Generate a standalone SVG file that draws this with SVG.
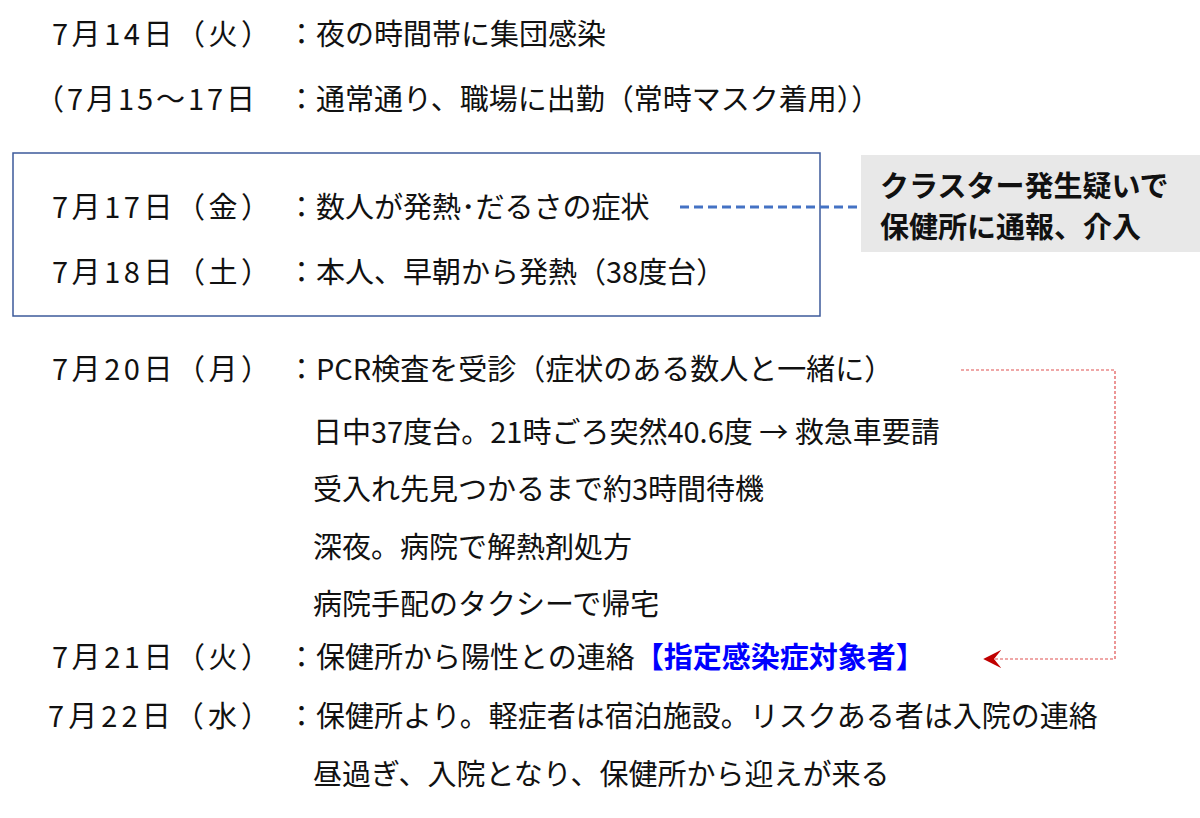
<svg xmlns="http://www.w3.org/2000/svg" width="1200" height="818" viewBox="0 0 1200 818">
<defs>
<style>
text{font-family:"Noto Sans CJK JP","Noto Sans",sans-serif;font-size:29px;fill:#111}
.b{font-weight:bold}
</style>
<marker id="ar" viewBox="0 0 10 10" refX="9" refY="5" markerWidth="18" markerHeight="18" markerUnits="userSpaceOnUse" orient="auto">
<path d="M0,0 L10,5 L0,10 L4,5 Z" fill="#c00000"/>
</marker>
</defs>
<rect width="1200" height="818" fill="#fff"/>
<g id="frame"><rect x="13" y="153" width="807" height="163" fill="none" stroke="#3c5a9a" stroke-width="1.5"/></g>
<g id="note"><rect x="861" y="155" width="345" height="97" fill="#e8e8e8"/>
<text class="b" x="880" y="197" font-size="32">クラスター発生疑いで</text>
<text class="b" x="880" y="238" font-size="32">保健所に通報、介入</text></g>
<g id="connectors">
<line x1="680" y1="207" x2="862" y2="207" stroke="#4472c4" stroke-width="3" stroke-dasharray="9,5"/>
<polyline points="961,370 1115,370 1115,659 985,659" fill="none" stroke="#e05050" stroke-width="1.2" stroke-dasharray="3,2" marker-end="url(#ar)"/>
</g>
<g id="rows">
<text x="52" y="45" textLength="218">7月14日（火）</text><text x="287" y="45">：夜の時間帯に集団感染</text>
<text x="35" y="110" textLength="220">（7月15～17日</text><text x="287" y="110">：通常通り、職場に出勤（常時マスク着用））</text>
<text x="52" y="218" textLength="218">7月17日（金）</text><text x="287" y="218">：数人が発熱･だるさの症状</text>
<text x="52" y="283" textLength="218">7月18日（土）</text><text x="287" y="283">：本人、早朝から発熱（38度台）</text>
<text x="52" y="380" textLength="218">7月20日（月）</text><text x="287" y="380">：PCR検査を受診（症状のある数人と一緒に）</text>
<text x="313" y="443">日中37度台。21時ごろ突然40.6度 → 救急車要請</text>
<text x="313" y="500">受入れ先見つかるまで約3時間待機</text>
<text x="313" y="558">深夜。病院で解熱剤処方</text>
<text x="313" y="615">病院手配のタクシーで帰宅</text>
<text x="52" y="668" textLength="218">7月21日（火）</text><text x="287" y="668">：保健所から陽性との連絡<tspan class="b" style="fill:#0000ff">【指定感染症対象者】</tspan></text>
<text x="48" y="727" textLength="222">7月22日（水）</text><text x="287" y="727">：保健所より。軽症者は宿泊施設。リスクある者は入院の連絡</text>
<text x="313" y="785">昼過ぎ、入院となり、保健所から迎えが来る</text>
</g>
</svg>
